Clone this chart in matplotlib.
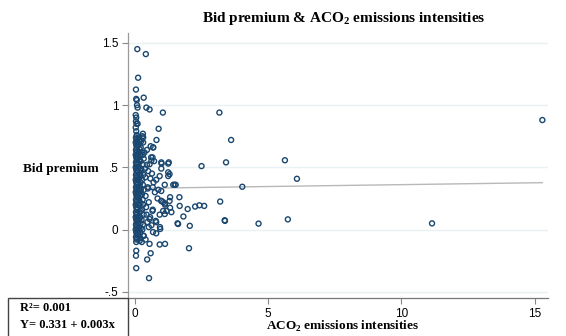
import numpy as np
import matplotlib
matplotlib.use("Agg")
import matplotlib.pyplot as plt
from matplotlib.patches import Rectangle

plt.rcParams["mathtext.fontset"] = "custom"
plt.rcParams["mathtext.rm"] = "Liberation Serif"
plt.rcParams["mathtext.bf"] = "Liberation Serif:bold"

# scatter points (x = ACO2 intensity, y = bid premium)
# dense column right at zero
col0_x = [0.03, 0.05, 0.04, 0.06, 0.03, 0.05, 0.07, 0.04, 0.06, 0.03, 0.05, 0.07, 0.04,
          0.06, 0.03, 0.05, 0.07, 0.04, 0.06, 0.03, 0.05, 0.07, 0.04, 0.06, 0.03, 0.05,
          0.07, 0.04, 0.06, 0.03, 0.05, 0.07, 0.04, 0.06, 0.03, 0.05, 0.07, 0.04, 0.06,
          0.03, 0.05, 0.07, 0.04, 0.06, 0.03, 0.05, 0.07, 0.04, 0.06, 0.05]
col0_y = [0.92, 0.90, 0.87, 0.85, 0.82, 0.79, 0.76, 0.74, 0.72, 0.70, 0.68, 0.66, 0.64,
          0.62, 0.60, 0.58, 0.56, 0.54, 0.52, 0.50, 0.48, 0.46, 0.44, 0.42, 0.40, 0.38,
          0.36, 0.34, 0.32, 0.30, 0.28, 0.26, 0.24, 0.22, 0.20, 0.18, 0.16, 0.14, 0.12,
          0.10, 0.08, 0.06, 0.04, 0.02, 0.00, -0.02, -0.04, -0.06, -0.08, -0.10]

col1_x = [0.14, 0.16, 0.13, 0.17, 0.15, 0.12, 0.18, 0.14, 0.16, 0.13, 0.17, 0.15, 0.12,
          0.18, 0.14, 0.16, 0.13, 0.17, 0.15, 0.12, 0.18, 0.14, 0.16, 0.13, 0.17, 0.15,
          0.12, 0.18]
col1_y = [0.74, 0.71, 0.68, 0.65, 0.62, 0.59, 0.56, 0.53, 0.50, 0.47, 0.44, 0.41, 0.38,
          0.35, 0.32, 0.29, 0.26, 0.23, 0.20, 0.17, 0.14, 0.11, 0.08, 0.05, 0.02, -0.01,
          -0.05, -0.09]

col2_x = [0.28, 0.31, 0.26, 0.33, 0.29, 0.25, 0.32, 0.27, 0.30, 0.34, 0.26, 0.29, 0.31,
          0.27, 0.33, 0.25, 0.30, 0.28, 0.32, 0.26]
col2_y = [0.75, 0.70, 0.62, 0.57, 0.52, 0.48, 0.44, 0.40, 0.36, 0.32, 0.28, 0.24, 0.20,
          0.16, 0.12, 0.08, 0.04, 0.00, -0.05, -0.10]

col3_x = [0.09, 0.10, 0.11, 0.09, 0.10, 0.11, 0.09, 0.10, 0.11, 0.09, 0.10, 0.11, 0.09,
          0.10, 0.11, 0.09, 0.10, 0.11, 0.09, 0.10, 0.11, 0.09, 0.10, 0.11, 0.09, 0.10,
          0.21, 0.22, 0.20, 0.21, 0.22, 0.20, 0.21, 0.22, 0.20, 0.21, 0.22, 0.20, 0.21,
          0.22, 0.20, 0.21, 0.22, 0.20]
col3_y = [0.73, 0.70, 0.67, 0.63, 0.60, 0.57, 0.53, 0.50, 0.47, 0.43, 0.40, 0.37, 0.33,
          0.30, 0.27, 0.23, 0.20, 0.17, 0.13, 0.10, 0.07, 0.03, 0.00, -0.03, -0.07, 0.85,
          0.72, 0.66, 0.60, 0.55, 0.49, 0.43, 0.38, 0.33, 0.27, 0.21, 0.15, 0.10, 0.05,
          0.01, -0.03, -0.07, 0.31, 0.45]

# scattered points between 0 and ~4
mid_x = [0.09, 0.41, 0.12, 0.04, 0.05, 0.07, 0.33, 0.08, 0.10, 0.43, 0.55, 1.05, 0.89,
         0.30, 0.31, 0.24, 0.59, 0.68, 0.45, 0.61, 0.62, 0.99, 1.27, 0.45, 0.30, 0.55,
         0.99, 1.30, 0.93, 0.80, 1.49, 1.12, 1.53, 0.99, 0.67, 0.49, 0.99, 1.12, 1.30,
         1.68, 0.67, 1.12, 1.37, 1.62, 0.80, 0.62, 0.94, 0.55, 0.93, 0.95, 0.80, 0.68,
         0.55, 0.93, 1.13, 0.59, 0.46, 0.05, 0.04, 0.05, 0.53, 0.40, 0.33, 2.50, 3.42,
         1.25, 1.00, 1.25, 1.25, 1.44, 0.88, 1.32, 1.67, 1.00, 1.06, 1.13, 1.32, 1.06,
         1.19, 1.98, 2.26, 2.42, 2.60, 3.20, 1.82, 1.60, 2.06, 3.38, 0.66, 0.69, 2.03,
         0.81, 0.50, 0.58, 0.72, 0.40, 0.52, 0.75, 0.44, 0.64, 0.85, 0.38, 0.47, 0.70,
         0.42, 0.57, 0.36, 0.48, 0.78, 0.66, 0.39, 0.52]
mid_y = [1.45, 1.41, 1.22, 1.125, 1.05, 1.04, 1.06, 1.00, 0.98, 0.98, 0.965, 0.94, 0.81,
         0.77, 0.74, 0.71, 0.67, 0.66, 0.64, 0.58, 0.555, 0.54, 0.54, 0.52, 0.60, 0.525,
         0.49, 0.445, 0.43, 0.40, 0.36, 0.36, 0.36, 0.31, 0.34, 0.33, 0.23, 0.21, 0.23,
         0.19, 0.16, 0.125, 0.14, 0.045, 0.06, 0.035, 0.02, 0.085, 0.12, 0.005, -0.03,
         -0.02, -0.115, -0.12, -0.115, -0.19, -0.24, -0.17, -0.21, -0.31, -0.39, -0.08,
         -0.05, 0.51, 0.54, 0.53, 0.53, 0.46, 0.43, 0.36, 0.32, 0.26, 0.26, 0.23, 0.22,
         0.20, 0.175, 0.15, 0.15, 0.165, 0.185, 0.195, 0.19, 0.225, 0.105, 0.05, 0.03,
         0.07, 0.15, 0.66, -0.15, 0.72, 0.47, 0.41, 0.55, 0.27, 0.22, 0.30, 0.12, 0.45,
         0.25, 0.49, 0.06, 0.38, 0.18, 0.10, 0.62, 0.34, 0.07, 0.58, 0.42, 0.02]

# far points
far_x = [3.17, 3.61, 5.63, 6.08, 4.03, 3.37, 4.64, 5.74, 11.15, 15.29]
far_y = [0.94, 0.72, 0.557, 0.408, 0.344, 0.075, 0.048, 0.082, 0.05, 0.88]

fit_a, fit_b = 0.331, 0.003
x = np.array(col0_x + col1_x + col2_x + col3_x + mid_x + far_x)
y = np.array(col0_y + col1_y + col2_y + col3_y + mid_y + far_y)

navy = "#1a476f"
serif = "Liberation Serif"
sans = "Liberation Sans"

fig = plt.figure(figsize=(5.66, 3.36), dpi=100)
ax = fig.add_axes([0.2261, 0.113, 0.742, 0.789])

for yy in [-0.5, 0, 0.5, 1, 1.5]:
    ax.axhline(yy, color="#eaf1f4", lw=1, zorder=0)

ax.scatter(x, y, s=13, facecolors="none", edgecolors=navy, linewidths=1.0, zorder=3)

xf = np.array([x.min(), x.max()])
ax.plot(xf, fit_a + fit_b * xf, color="#b8b8b8", lw=1, zorder=2)

ax.set_xlim(-0.26, 15.5)
ax.set_ylim(-0.55, 1.58)
ax.set_xticks([0, 5, 10, 15])
ax.set_yticks([-0.5, 0, 0.5, 1, 1.5])
ax.set_yticklabels(["-.5", "0", ".5", "1", "1.5"])
for lab in ax.get_xticklabels() + ax.get_yticklabels():
    lab.set_fontfamily(sans)
    lab.set_fontsize(8.5)
ax.tick_params(direction="out", length=4, width=0.8, color="#888888", pad=3)

for s in ["top", "right"]:
    ax.spines[s].set_visible(False)
ax.spines["left"].set_color("#999999")
ax.spines["bottom"].set_color("#777777")
ax.spines["left"].set_linewidth(0.9)
ax.spines["bottom"].set_linewidth(0.9)

fig.text(0.108, 0.497, "Bid premium", family=serif, weight="bold", fontsize=9.5,
         ha="center", va="center")
fig.text(0.606, 0.018, r"ACO$_\mathbf{2}$ emissions intensities", family=serif,
         weight="bold", fontsize=9.5, ha="center", va="baseline")
fig.text(0.607, 0.935, r"Bid premium & ACO$_\mathbf{2}$ emissions intensities", family=serif,
         weight="bold", fontsize=11, ha="center", va="baseline")

# regression box
fig.patches.append(Rectangle((0.015, -0.01), 0.211, 0.123, transform=fig.transFigure,
                             fill=False, edgecolor="#444444", lw=1))
fig.text(0.035, 0.073, f"R\u00b2= {0.001:.3f}", family=serif, weight="bold", fontsize=9,
         va="baseline")
fig.text(0.035, 0.025, f"Y= {fit_a:.3f} + {fit_b:.3f}x", family=serif, weight="bold",
         fontsize=9, va="baseline")

fig.savefig("out.png", dpi=100)
